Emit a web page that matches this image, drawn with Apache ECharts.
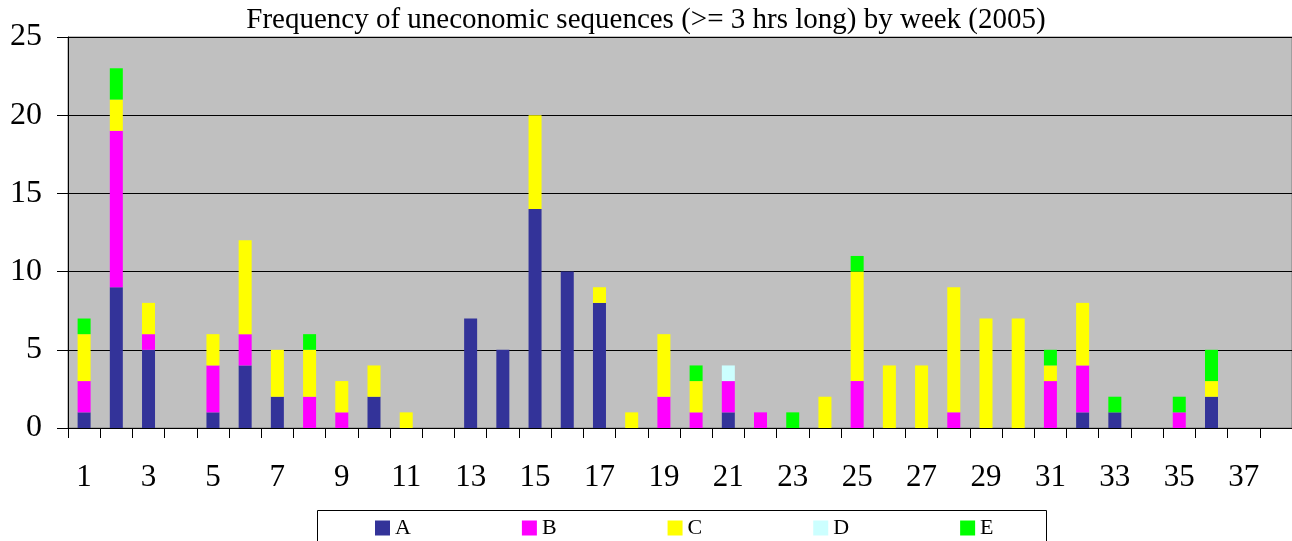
<!DOCTYPE html>
<html>
<head>
<meta charset="utf-8">
<script src="https://cdn.jsdelivr.net/npm/echarts@6/dist/echarts.min.js"></script>
<style>
html,body{margin:0;padding:0;background:#fff;}
#chart{width:1292px;height:541px;}
</style>
</head>
<body>
<div id="chart"></div>
<script>
var weeks = [];
for (var i = 1; i <= 38; i++) weeks.push(String(i));
//            1  2  3  4  5  6  7  8  9 10 11 12 13 14 15 16 17 18 19 20 21 22 23 24 25 26 27 28 29 30 31 32 33 34 35 36 37 38
var seriesA = [1, 9, 5, 0, 1, 4, 2, 0, 0, 2, 0, 0, 7, 5,14,10, 8, 0, 0, 0, 1, 0, 0, 0, 0, 0, 0, 0, 0, 0, 0, 1, 1, 0, 0, 2, 0, 0];
var seriesB = [2,10, 1, 0, 3, 2, 0, 2, 1, 0, 0, 0, 0, 0, 0, 0, 0, 0, 2, 1, 2, 1, 0, 0, 3, 0, 0, 1, 0, 0, 3, 3, 0, 0, 1, 0, 0, 0];
var seriesC = [3, 2, 2, 0, 2, 6, 3, 3, 2, 2, 1, 0, 0, 0, 6, 0, 1, 1, 4, 2, 0, 0, 0, 2, 7, 4, 4, 8, 7, 7, 1, 4, 0, 0, 0, 1, 0, 0];
var seriesD = [0, 0, 0, 0, 0, 0, 0, 0, 0, 0, 0, 0, 0, 0, 0, 0, 0, 0, 0, 0, 1, 0, 0, 0, 0, 0, 0, 0, 0, 0, 0, 0, 0, 0, 0, 0, 0, 0];
var seriesE = [1, 2, 0, 0, 0, 0, 0, 1, 0, 0, 0, 0, 0, 0, 0, 0, 0, 0, 0, 1, 0, 0, 1, 0, 1, 0, 0, 0, 0, 0, 1, 0, 1, 0, 1, 2, 0, 0];
var seriesNames = ['A', 'B', 'C', 'D', 'E'];
var seriesColors = ['#333399', '#FF00FF', '#FFFF00', '#CCFFFF', '#00FF00'];
var yTicks = [0, 5, 10, 15, 20, 25];
var titleText = 'Frequency of uneconomic sequences (>= 3 hrs long) by week (2005)';

var FONT = '"Liberation Serif", "Times New Roman", serif';
var allData = [seriesA, seriesB, seriesC, seriesD, seriesE];
var series = seriesNames.map(function (n, k) {
  return {
    name: n, type: 'bar', stack: 'total', barWidth: 13,
    data: allData[k],
    itemStyle: { color: seriesColors[k] },
    emphasis: { disabled: true }
  };
});

var chart = echarts.init(document.getElementById('chart'), null, { renderer: 'canvas' });
chart.setOption({
  animation: false,
  backgroundColor: '#ffffff',
  title: {
    text: titleText, left: 'center', top: 1,
    textStyle: { fontFamily: FONT, fontSize: 29, fontWeight: 'normal', color: '#000' }
  },
  grid: {
    left: 68, right: 0, top: 37, bottom: 113, show: true,
    backgroundColor: '#C0C0C0', borderColor: '#808080', borderWidth: 1
  },
  legend: {
    data: seriesNames, left: 375, top: 517, padding: 0,
    itemWidth: 15, itemHeight: 15, itemGap: 111,
    icon: 'rect',
    textStyle: { fontFamily: FONT, fontSize: 22, color: '#000' }
  },
  graphic: [{
    type: 'rect', shape: { x: 317.5, y: 510.5, width: 729, height: 40 },
    style: { fill: 'none', stroke: '#000', lineWidth: 1 }, silent: true
  }],
  xAxis: {
    type: 'category', data: weeks, boundaryGap: true,
    axisLine: { lineStyle: { color: '#000', width: 1 } },
    axisTick: { show: true, interval: 0, length: 10, lineStyle: { color: '#000' } },
    axisLabel: { interval: 1, margin: 34, fontFamily: FONT, fontSize: 31, color: '#000' },
    splitLine: { show: false }
  },
  yAxis: {
    type: 'value', min: yTicks[0], max: yTicks[yTicks.length - 1], interval: 5,
    axisLine: { show: true, lineStyle: { color: '#000', width: 1 } },
    axisTick: { show: true, length: 11, lineStyle: { color: '#000' } },
    axisLabel: { margin: 26, fontFamily: FONT, fontSize: 32, color: '#000', padding: [6, 0, 0, 0] },
    splitLine: { show: true, lineStyle: { color: '#000', width: 1 } }
  },
  series: series
});
</script>
</body>
</html>
